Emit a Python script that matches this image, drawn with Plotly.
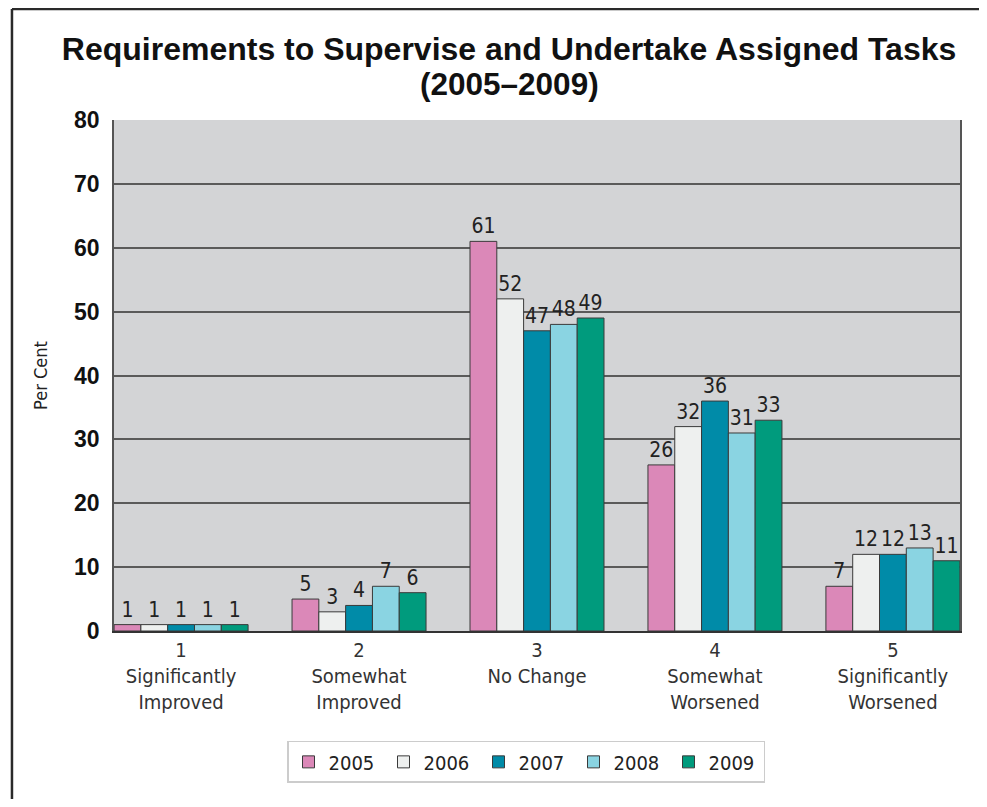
import plotly.graph_objects as go

categories = ['1<br>Significantly<br>Improved', '2<br>Somewhat<br>Improved', '3<br>No Change',
              '4<br>Somewhat<br>Worsened', '5<br>Significantly<br>Worsened']
years = ['2005', '2006', '2007', '2008', '2009']
v2005 = [1, 5, 61, 26, 7]
v2006 = [1, 3, 52, 32, 12]
v2007 = [1, 4, 47, 36, 12]
v2008 = [1, 7, 48, 31, 13]
v2009 = [1, 6, 49, 33, 11]
colors = ['#DB88B8', '#EEF0EF', '#008BA8', '#8AD4E2', '#009B7D']

narrow = 'DejaVu Sans Condensed, Liberation Sans Narrow, Liberation Sans, sans-serif'
bold = 'Liberation Sans, Arial, sans-serif'

fig = go.Figure()
x = list(range(len(categories)))
for year, vals, c in zip(years, [v2005, v2006, v2007, v2008, v2009], colors):
  fig.add_trace(go.Bar(x=x, y=vals, name=year, marker=dict(color=c, line=dict(color='#3a3a3a', width=1)),
                       text=vals, textposition='outside', cliponaxis=False,
                       textfont=dict(family=narrow, size=21, color='#222')))

# outer frame: left and top edges only, the rest runs off the page
fig.add_shape(type='line', xref='paper', yref='paper', x0=-0.1206, x1=-0.1206, y0=-0.335, y1=1.2172,
              line=dict(color='#2a2a2a', width=2.5), layer='below')
fig.add_shape(type='line', xref='paper', yref='paper', x0=-0.1206, x1=1.03, y0=1.2172, y1=1.2172,
              line=dict(color='#2a2a2a', width=2.5), layer='below')

fig.add_annotation(text='<b>(2005–2009)</b>', xref='paper', yref='paper', x=(501 - 106) / 846, y=1.071,
                   xanchor='center', yanchor='middle', showarrow=False,
                   font=dict(family=bold, size=31.5, color='#111'))

fig.update_layout(
  width=971, height=791, autosize=False,
  margin=dict(l=106, r=19, t=112, b=168),
  paper_bgcolor='white', plot_bgcolor='#D3D4D6',
  barmode='group', bargap=0.247, bargroupgap=0,
  title=dict(text='<b>Requirements to Supervise and Undertake Assigned Tasks</b>',
             x=0.516, xanchor='center', y=0.949, yanchor='middle',
             font=dict(family=bold, size=32, color='#111')),
  showlegend=True,
  legend=dict(orientation='h', x=0.487, xanchor='center', y=-0.215, yanchor='top',
              bordercolor='#cccccc', borderwidth=1.5, bgcolor='white',
              font=dict(family=narrow, size=20, color='#222'),
              entrywidth=50, entrywidthmode='pixels', traceorder='normal'),
  font=dict(family=narrow, color='#222'),
)

fig.update_xaxes(tickvals=x, ticktext=categories, range=[-0.377, 4.377],
                 tickfont=dict(family=narrow, size=20, color='#333'),
                 showline=True, linecolor='#333', linewidth=2, mirror=False,
                 showgrid=False, ticks='', zeroline=False)
fig.update_yaxes(range=[0, 80], dtick=10, tickfont=dict(family=bold, size=23, color='#111'),
                 tickprefix='<b>', ticksuffix='</b>',
                 title=dict(text='Per Cent', font=dict(family=narrow, size=18, color='#222'), standoff=22),
                 showgrid=True, gridcolor='#5a5a5a', gridwidth=1.5,
                 showline=True, linecolor='#555', linewidth=1.5, mirror=True,
                 ticks='outside', ticklen=8, tickcolor='rgba(0,0,0,0)', zeroline=False)

fig.write_html('out.html')
